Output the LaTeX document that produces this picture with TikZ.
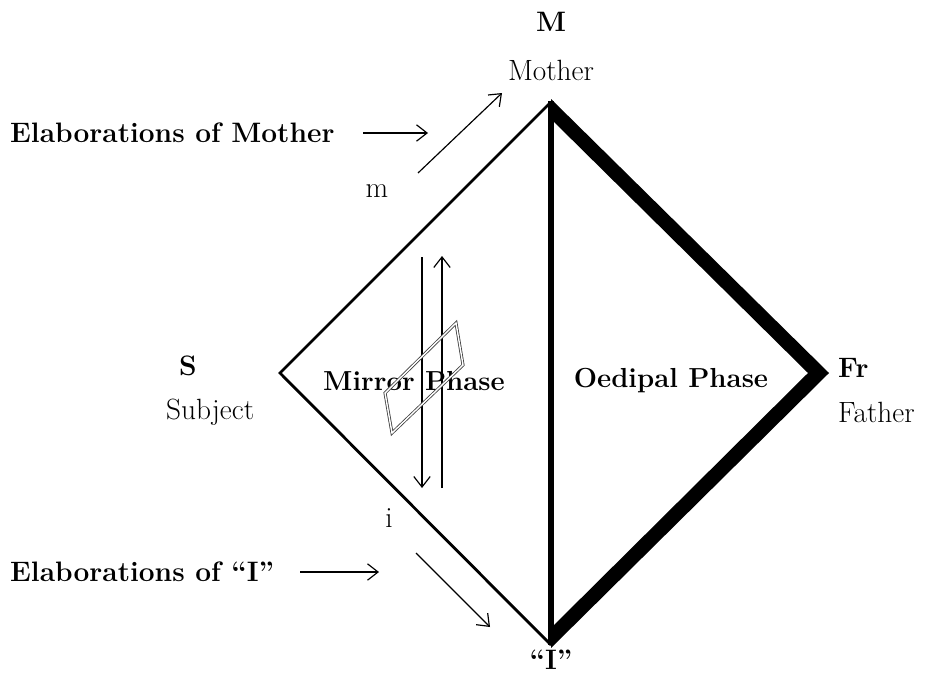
\documentclass[tikz,border=0pt]{standalone}
\usetikzlibrary{arrows.meta}
\begin{document}
\begin{tikzpicture}[x=0.03cm,y=-0.03cm,
  lbl/.style={inner sep=0pt,font=\fontsize{25}{29}\selectfont},
  blbl/.style={inner sep=0pt,font=\fontsize{24}{28}\selectfont\bfseries},
  phase/.style={inner sep=0pt,font=\fontsize{23.5}{27}\selectfont\bfseries},
  thinarrow/.style={line width=1pt,-{Straight Barb[length=9pt,width=14pt]}},
  leftedge/.style={line width=2.4pt,line join=miter},
  midline/.style={line width=5pt},
  mirror/.style={draw=black!75,double=white,double distance=1.2pt,line width=0.7pt,line join=miter}]
\useasboundingbox (0,0) rectangle (929,675);
% diamond corners
\coordinate (T) at (551,102);
\coordinate (L) at (280,373);
\coordinate (B) at (551,645);
% thick right half as filled band
\fill (551,99) -- (829,373) -- (551,648) -- (551,628) -- (808,373) -- (551,119) -- cycle;
\draw[leftedge] (T) -- (L) -- (B);
\draw[midline] (551,101) -- (551,645);
% labels
\node[blbl] (M) at (551,22) {M};
\node[lbl] (mother) at (551,70) {Mother};
\node[blbl,anchor=west] (elabM) at (10,133) {Elaborations of Mother};
\coordinate (a1s) at (363,133); \coordinate (a1e) at (428,133);
\draw[thinarrow] (a1s) -- (a1e);
\coordinate (a2s) at (418,173); \coordinate (a2e) at (502,93);
\draw[thinarrow] (a2s) -- (a2e);
\node[lbl] (m) at (377,191) {m};
\node[blbl] (S) at (188,366) {S};
\node[lbl,anchor=west] (subj) at (166,412) {Subject};
\node[blbl,anchor=west] (Fr) at (838,368) {Fr};
\node[lbl,anchor=west] (father) at (838,412) {Father};
\node[phase] (mirrorph) at (414,381) {Mirror Phase};
\node[phase] (oedph) at (671,381) {Oedipal Phase};
% vertical arrows and mirror
\coordinate (v1t) at (422,257); \coordinate (v1b) at (422,488);
\coordinate (v2t) at (442,256); \coordinate (v2b) at (442,488);
\draw[thinarrow] (v1t) -- (v1b);
\draw[thinarrow] (v2b) -- (v2t);
\draw[mirror] (456,323) -- (463,365) -- (392,433) -- (385,393) -- cycle;
\node[lbl] (i) at (389,518) {i};
\node[blbl,anchor=west] (elabI) at (10,572) {Elaborations of “I”};
\coordinate (a3s) at (300,572); \coordinate (a3e) at (379,572);
\draw[thinarrow] (a3s) -- (a3e);
\coordinate (a4s) at (416,553); \coordinate (a4e) at (490,627);
\draw[thinarrow] (a4s) -- (a4e);
\node[blbl] (I) at (551,660) {“I”};
\end{tikzpicture}
\end{document}
